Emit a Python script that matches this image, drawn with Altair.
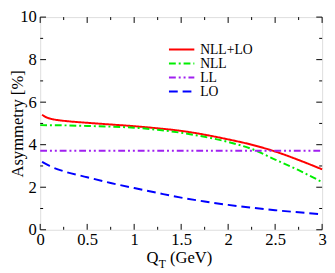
import altair as alt
import pandas as pd

# ---- data ----
series_names = ["NLL+LO", "NLL", "LL", "LO"]
series_colors = ["#ff0000", "#00ee00", "#a020f0", "#0000ff"]
series_dashes = [[1, 0], [7, 3, 2, 3], [7, 3, 2, 3, 2, 3], [9, 5]]

qt_nll_lo = [0.02, 0.06, 0.12, 0.2, 0.3, 0.5, 0.75, 1.0, 1.25, 1.5, 1.75, 2.0, 2.25, 2.5, 2.75, 3.0]
asym_nll_lo = [5.41, 5.30, 5.21, 5.15, 5.10, 5.03, 4.95, 4.87, 4.77, 4.65, 4.47, 4.25, 4.00, 3.68, 3.28, 2.84]

qt_nll = [0.0, 0.25, 0.5, 0.75, 1.0, 1.25, 1.5, 1.75, 2.0, 2.25, 2.5, 2.75, 3.0]
asym_nll = [4.92, 4.91, 4.88, 4.85, 4.80, 4.70, 4.56, 4.37, 4.13, 3.80, 3.30, 2.80, 2.24]

qt_ll = [0.0, 3.0]
asym_ll = [3.72, 3.72]

qt_lo = [0.02, 0.1, 0.25, 0.5, 0.75, 1.0, 1.25, 1.5, 1.75, 2.0, 2.25, 2.5, 2.75, 3.0]
asym_lo = [3.19, 3.00, 2.75, 2.47, 2.20, 1.96, 1.73, 1.51, 1.33, 1.17, 1.04, 0.92, 0.82, 0.73]

x_major = [0, 0.5, 1, 1.5, 2, 2.5, 3]
x_minor = [0.25, 0.75, 1.25, 1.75, 2.25, 2.75]
y_major = [0, 2, 4, 6, 8, 10]
y_minor = [1, 3, 5, 7, 9]

# ---- build table ----
rows = []
for i, (name, xs_, ys_) in enumerate(zip(series_names,
                                         [qt_nll_lo, qt_nll, qt_ll, qt_lo],
                                         [asym_nll_lo, asym_nll, asym_ll, asym_lo])):
    for x, y in zip(xs_, ys_):
        rows.append({"series": name, "qt": x, "asym": y, "k": i})
df = pd.DataFrame(rows)

W, H = 289, 218
FONT = "Liberation Serif"
xsc = alt.Scale(domain=[0, 3], nice=False, zero=False)
ysc = alt.Scale(domain=[0, 10], nice=False, zero=False)

xaxis = alt.Axis(values=x_major, format="~r", ticks=False, domain=False, grid=False,
                 labelFont=FONT, labelFontSize=17, labelColor="black",
                 labelPadding=2, title=None, labelFlush=False, labelOverlap=False)
yaxis = alt.Axis(values=y_major, format="~r", ticks=False, domain=False, grid=False,
                 labelFont=FONT, labelFontSize=17, labelColor="black",
                 labelPadding=4, labelFlush=False, labelOverlap=False,
                 title="Asymmetry [%]", titleFont=FONT, titleFontSize=17,
                 titleFontWeight="normal", titleColor="black",
                 titleX=-18, titleY=H / 2, titleAngle=270,
                 titleBaseline="alphabetic", titleAlign="center")

lines = alt.Chart(df).mark_line(strokeWidth=2, interpolate="monotone").encode(
    x=alt.X("qt:Q", scale=xsc, axis=xaxis),
    y=alt.Y("asym:Q", scale=ysc, axis=yaxis),
    color=alt.Color("series:N", scale=alt.Scale(domain=series_names, range=series_colors), legend=None),
    strokeDash=alt.StrokeDash("series:N", scale=alt.Scale(domain=series_names, range=series_dashes), legend=None),
    detail="k:N",
)

layers = [lines]

def xtick_layers(vals, length):
    d = pd.DataFrame({"qt": vals})
    base = alt.Chart(d).mark_rule(color="black", strokeWidth=1)
    return [
        base.encode(x=alt.X("qt:Q", scale=xsc, axis=xaxis), y=alt.value(H), y2=alt.value(H - length)),
        base.encode(x=alt.X("qt:Q", scale=xsc, axis=xaxis), y=alt.value(0), y2=alt.value(length)),
    ]

def ytick_layers(vals, length):
    d = pd.DataFrame({"asym": vals})
    base = alt.Chart(d).mark_rule(color="black", strokeWidth=1)
    return [
        base.encode(y=alt.Y("asym:Q", scale=ysc, axis=yaxis), x=alt.value(0), x2=alt.value(length)),
        base.encode(y=alt.Y("asym:Q", scale=ysc, axis=yaxis), x=alt.value(W), x2=alt.value(W - length)),
    ]

layers += xtick_layers(x_major, 6) + xtick_layers(x_minor, 3)
layers += ytick_layers(y_major, 6) + ytick_layers(y_minor, 3)

# ---- legend (manual) ----
for i, (name, col, dash) in enumerate(zip(series_names, series_colors, series_dashes)):
    ly = 33.3 + i * 14.3
    d = pd.DataFrame({"s": [name]})
    layers.append(alt.Chart(d).mark_rule(color=col, strokeWidth=2, strokeDash=dash).encode(
        x=alt.value(132), x2=alt.value(158), y=alt.value(ly)))
    layers.append(alt.Chart(d).mark_text(align="left", baseline="middle", font=FONT, fontSize=14,
                                         color="black").encode(
        x=alt.value(164), y=alt.value(ly + 0.5), text="s:N"))

# ---- x-axis title with subscript ----
title_parts = [("Q", 17, 109, 252), ("T", 12, 121.5, 257), ("(GeV)", 17, 133, 252)]
for txt, fs, tx, ty in title_parts:
    d = pd.DataFrame({"t": [txt]})
    layers.append(alt.Chart(d).mark_text(align="left", baseline="alphabetic", font=FONT, fontSize=fs,
                                         color="black").encode(
        x=alt.value(tx), y=alt.value(ty), text="t:N"))

chart = alt.layer(*layers).properties(
    width=W, height=H,
    autosize=alt.AutoSizeParams(type="none"),
    padding={"left": 33, "top": 6, "right": 5, "bottom": 41},
).configure_view(stroke="black", strokeWidth=1).configure(background="white")

chart.save("out.html", embed_options={"renderer": "svg", "actions": False})
